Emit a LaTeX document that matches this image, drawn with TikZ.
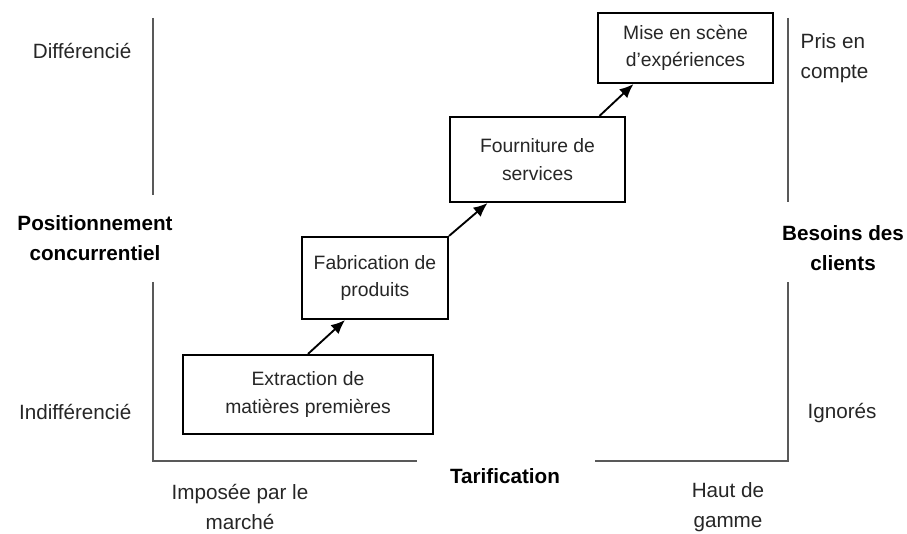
\documentclass[tikz,border=0pt]{standalone}
\usepackage{fontspec}
\setmainfont{Liberation Sans}
\usetikzlibrary{arrows.meta}

\begin{document}
\begin{tikzpicture}[x=0.75pt, y=-0.75pt,
  every node/.style={align=center, text=black!85},
  stage/.style={draw=black, line width=1.6pt, fill=white, inner sep=0pt, font=\fontsize{14.5}{20.5}\selectfont},
  lbl/.style={font=\fontsize{15.5}{22}\selectfont},
  axislbl/.style={font=\fontsize{15.5}{23}\selectfont\bfseries, text=black},
  axis/.style={draw=black!65, line width=1.5pt},
  arr/.style={-{Latex[length=10.5pt, width=9pt]}, line width=1.4pt}]
  \useasboundingbox (0,0) rectangle (907,534);

  % Axes
  \draw[axis] (153,18) -- (153,195);
  \draw[axis] (153,282) -- (153,461) -- (417,461);
  \draw[axis] (595,461) -- (788,461) -- (788,282);
  \draw[axis] (788,18) -- (788,202);

  % Stages
  \node[stage, minimum width=187.5pt, minimum height=59.25pt] (ext) at (308,394.5) {Extraction de\\matières premières};
  \node[stage, minimum width=109.5pt, minimum height=61.5pt] (fab) at (375,278) {Fabrication de\\produits};
  \node[stage, minimum width=131.25pt, minimum height=63.75pt] (fou) at (537.5,159.5) {Fourniture de\\services};
  \node[stage, minimum width=131.25pt, minimum height=52.5pt] (mise) at (685.5,48) {Mise en scène\\d'expériences};

  % Left labels
  \node[lbl, anchor=east] (diff) at (136,51) {Différencié};
  \node[axislbl] (pos) at (95,238) {Positionnement\\concurrentiel};
  \node[lbl, anchor=east] (indiff) at (136,412) {Indifférencié};

  % Right labels
  \node[lbl, anchor=west, align=left] (pris) at (796,58) {Pris en\\compte};
  \node[axislbl] (besoins) at (843,248) {Besoins des\\clients};
  \node[lbl] (ign) at (842,413) {Ignorés};

  % Bottom labels
  \node[lbl] (imp) at (240,507) {Imposée par le\\marché};
  \node[axislbl] (tarif) at (505,476) {Tarification};
  \node[lbl] (haut) at (728,507) {Haut de\\gamme};

  % Arrows
  \draw[arr] (ext.north) -- ([xshift=-22.5pt]fab.south);
  \draw[arr] (fab.north east) -- ([xshift=-37.5pt]fou.south);
  \draw[arr] ([xshift=46.5pt]fou.north) -- ([xshift=-39pt]mise.south);
\end{tikzpicture}
\end{document}
